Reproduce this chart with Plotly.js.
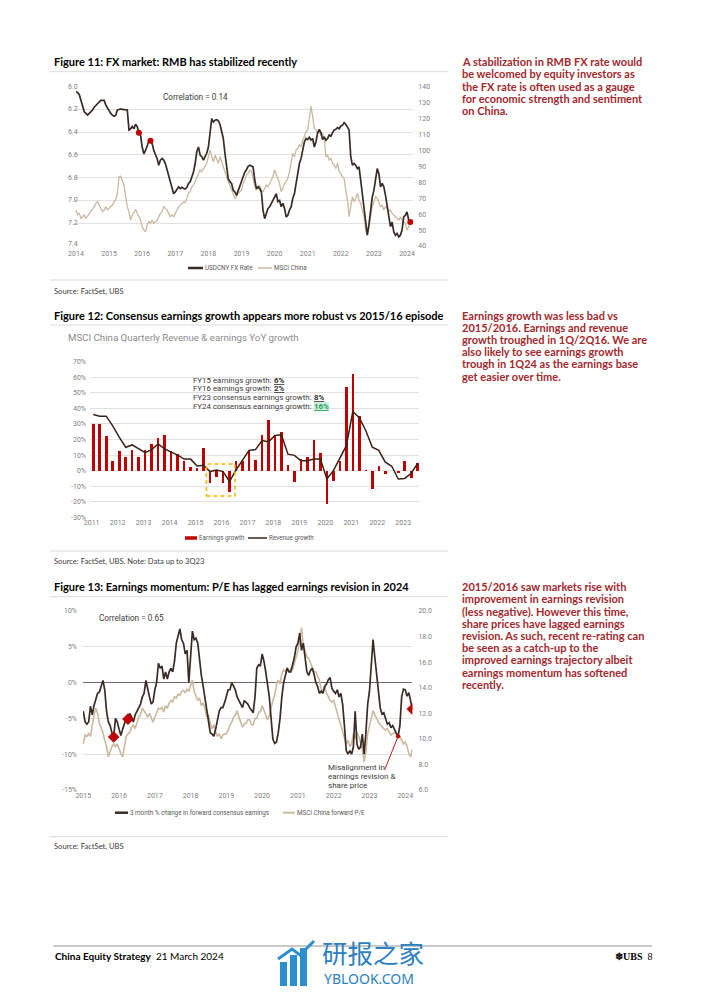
<!DOCTYPE html>
<html><head><meta charset="utf-8">
<script src="https://cdn.plot.ly/plotly-3.0.1.min.js"></script>
<style>html,body{margin:0;padding:0;background:#fff;}#c{width:702px;height:992px;}</style>
</head><body><div id="c"></div>
<script>
// ---------------- Figure 11 data (sampled every 0.05 year from 2014.0) ----------------
const fxStart = 2014, fxStep = 0.05;
const fxYears = [2014,2015,2016,2017,2018,2019,2020,2021,2022,2023,2024];
const usdcny = [
6.044,6.05,6.07,6.12,6.19,6.22,6.235,6.25,6.235,6.22,6.205,6.18,6.16,6.15,6.135,6.12,6.12,6.12,6.16,6.19,
6.205,6.235,6.25,6.26,6.25,6.205,6.2,6.195,6.2,6.2,6.2,6.205,6.38,6.37,6.35,6.37,6.33,6.35,6.405,6.425,
6.53,6.59,6.56,6.51,6.48,6.475,6.5,6.56,6.59,6.63,6.69,6.645,6.63,6.645,6.675,6.73,6.79,6.835,6.91,6.94,
6.925,6.895,6.88,6.895,6.885,6.895,6.9,6.885,6.85,6.835,6.79,6.75,6.675,6.57,6.53,6.6,6.615,6.645,6.615,6.585,
6.53,6.38,6.28,6.31,6.295,6.29,6.3,6.33,6.395,6.455,6.585,6.72,6.81,6.835,6.85,6.91,6.925,6.955,6.91,6.88,
6.835,6.79,6.75,6.73,6.7,6.69,6.7,6.705,6.82,6.895,6.88,6.895,6.925,7.085,7.16,7.115,7.07,7.055,7.03,7.0,
6.97,6.94,7.01,7.0,7.055,7.025,7.07,7.145,7.13,7.085,7.055,6.98,6.94,6.85,6.75,6.675,6.63,6.54,6.485,6.455,
6.465,6.445,6.47,6.455,6.53,6.485,6.405,6.375,6.405,6.465,6.44,6.47,6.455,6.425,6.435,6.405,6.38,6.375,6.36,6.37,
6.345,6.34,6.315,6.33,6.36,6.38,6.615,6.69,6.675,6.69,6.72,6.705,6.82,6.94,7.03,7.2,7.305,7.215,7.085,6.97,
6.91,6.81,6.72,6.765,6.88,6.85,6.88,6.955,7.055,7.16,7.23,7.19,7.275,7.305,7.29,7.32,7.305,7.26,7.145,7.13,
7.1,7.17,7.19];
const msciChina = [
62.6,59.5,60.5,57.4,58.4,59.5,57.4,58.8,60.5,61.5,62.6,64.7,66.8,67.8,65.7,63.6,61.5,62.6,64.7,62.6,
63.6,64.7,65.7,67.8,68.9,73.1,83.5,83.9,81.4,78.3,71.0,64.7,61.5,56.3,59.5,61.5,63.0,60.5,58.4,56.3,
52.1,50.0,49.0,53.2,55.3,54.2,56.3,54.2,55.3,56.3,58.4,60.5,61.5,64.7,63.6,62.6,60.5,58.4,59.5,58.4,
60.5,62.6,64.7,65.7,66.8,67.8,67.2,69.9,73.1,74.1,77.2,78.3,80.4,83.5,85.6,87.7,86.7,88.7,90.8,91.9,
96.0,100.3,96.0,92.9,97.1,94.0,91.9,96.0,92.9,88.7,85.6,82.5,80.4,78.3,75.1,73.1,69.9,71.0,73.1,74.1,
75.1,79.3,81.4,84.6,85.6,87.7,86.7,82.5,77.2,75.1,77.2,78.3,75.1,74.1,76.2,78.3,77.2,79.3,80.4,83.5,
87.7,84.6,82.5,79.3,74.1,77.2,79.3,80.4,82.5,86.7,94.0,98.2,96.0,100.3,101.3,103.4,102.3,106.5,108.6,111.8,
112.8,119.1,127.9,121.2,113.8,112.8,110.7,111.8,109.7,110.7,107.6,96.0,97.1,94.0,95.0,91.9,90.8,88.7,91.9,86.7,
85.6,83.5,82.5,75.1,68.9,58.4,64.7,71.0,67.8,69.9,73.1,68.9,66.8,62.6,58.4,50.0,46.9,52.1,59.5,64.7,
67.8,71.0,69.9,66.8,64.7,65.7,62.6,64.7,63.6,61.5,62.6,60.5,59.5,58.4,57.4,56.3,58.4,56.3,55.3,54.2,
50.0,52.1,56.3];
const fxMarkerDates = [2015.9, 2016.25, 2024.1];
const fxTicksLeft = [6.0,6.2,6.4,6.6,6.8,7.0,7.2,7.4];
const fxTicksRight = [40,50,60,70,80,90,100,110,120,130,140];

// ---------------- Figure 12 data (quarterly, 1Q11 - 3Q23) ----------------
const qYears = [2011,2012,2013,2014,2015,2016,2017,2018,2019,2020,2021,2022,2023];
const earningsGrowth = [
30,30,22.5,6.3, 12.8,8.5,13,9, 13,17,21,23, 12.6,11,6.5,2.6,
1.5,14.6,-7.8,-4, -8,-13.7,6.3,6, 13,7,22.6,32.4, 22.6,25,3.5,-7.4,
7.4,9,19.6,11.3, -21.7,-6.5,5.9,53.7, 62,35,0.3,-12, 2.8,-2,-0.3,-1.7,
5.9,-5,5.2];
const revenueGrowth = [
36,35,35,28.7, 21.5,15,16.5,14, 11.5,13.5,17.2,14, 12,10,7.4,7.4,
3,3.5,-0.6,0.4, -0.6,-7,0.4,6.3, 13,13.5,19.3,18.5, 22.6,23,10.6,9.8,
6.3,6.3,7.4,7.4, -5.4,0,8.5,16, 38,34,25.6,15, 13,5.4,2.8,-5.4,
-5,-1.7,4.8];
const growthTicks = [-30,-20,-10,0,10,20,30,40,50,60,70];
const fyNotes = [
  ['FY15 earnings growth: ', '6%'],
  ['FY16 earnings growth: ', '2%'],
  ['FY23 consensus earnings growth: ', '8%'],
  ['FY24 consensus earnings growth: ', '16%']
];

// ---------------- Figure 13 data (sampled every 0.05 year from 2015.0) ----------------
const emStart = 2015, emStep = 0.05;
const emYears = [2015,2016,2017,2018,2019,2020,2021,2022,2023,2024];
const revision3m = [
-4.0,-5.5,-5.8,-5.5,-3.3,-4.5,-3.2,-2.5,-1.5,-1.3,-0.5,0.3,-1.0,-4.0,-5.5,-6.0,-7.0,-7.6,-5.0,-5.5,
-6.5,-7.4,-6.5,-5.7,-5.0,-5.1,-4.3,-4.8,-5.5,-4.5,-4.0,-3.5,-3.0,-2.0,-1.5,0.3,-1.0,-2.0,-3.0,-2.7,
-1.0,0.0,2.7,2.0,2.3,0.5,1.5,0.5,1.5,2.0,1.5,3.0,5.5,6.5,7.5,6.0,5.5,4.0,4.5,0.0,
3.0,7.2,6.0,6.2,5.5,3.0,1.0,-0.5,-2.0,-3.5,-5.5,-7.0,-7.2,-7.5,-6.5,-5.0,-4.0,-3.5,-3.5,-2.8,
-2.0,-1.0,-1.0,0.0,-0.5,-1.0,-2.0,-2.5,-3.0,-3.5,-2.5,-2.8,-3.0,-3.5,-3.8,-4.2,-2.0,2.0,2.5,2.3,
4.0,3.0,1.5,0.0,-2.0,-5.0,-7.9,-8.5,-8.3,-7.0,-5.0,-2.0,0.0,1.0,2.0,1.5,1.5,2.5,3.5,5.0,
5.5,6.9,4.5,5.5,3.0,1.5,1.0,1.7,2.0,1.2,0.0,-0.5,-1.5,-1.2,-1.5,-0.5,-0.2,0.4,0.7,-0.8,
-1.2,-1.5,-1.0,-2.0,-1.5,-3.0,-6.0,-9.5,-10.0,-9.5,-10.0,-9.0,-4.0,-8.6,-9.3,-9.0,-7.2,-10.0,-7.0,-3.0,
-1.2,3.3,6.0,3.5,0.8,-1.8,-3.5,-4.4,-4.2,-5.0,-5.8,-5.6,-6.3,-6.0,-6.6,-7.1,-7.5,-6.0,-2.0,-0.9,
-1.0,-1.9,-1.4,-2.6,-3.7];
const forwardPE = [
9.6,10.3,10.2,10.4,10.2,11.1,11.9,12.4,12.0,11.2,10.8,10.5,9.9,9.4,8.6,9.0,9.4,9.6,9.4,9.6,
9.2,8.85,8.6,9.4,10.2,10.4,10.5,10.9,11.1,10.8,11.2,11.7,11.9,12.4,12.2,12.0,11.7,12.0,11.6,11.3,
11.7,12.0,12.4,12.3,12.5,12.1,12.6,12.4,12.8,13.0,12.9,13.3,13.2,13.5,13.4,13.7,13.8,13.6,13.9,13.7,
14.1,14.6,13.7,13.4,13.0,13.2,12.6,12.8,12.4,11.7,11.9,11.2,10.8,11.1,10.5,10.2,10.4,10.0,10.3,10.4,
10.4,10.7,11.1,11.3,11.7,11.85,12.2,11.7,11.2,10.9,11.2,11.2,11.5,11.5,11.1,11.1,11.6,11.6,12.1,12.1,
12.6,12.2,11.8,11.5,11.85,12.5,13.0,13.4,14.2,14.6,14.3,15.1,15.4,15.25,15.6,15.25,15.5,15.4,15.9,16.3,
16.9,17.7,18.7,17.3,16.9,16.4,16.3,16.0,15.6,15.25,15.25,14.9,14.6,13.9,13.7,14.1,13.55,13.3,13.0,12.9,
13.0,12.5,12.0,11.5,10.9,10.4,9.9,9.6,9.9,9.4,9.6,10.4,10.0,10.5,10.2,9.6,9.2,8.2,9.0,10.4,
10.9,11.6,12.2,11.85,11.5,11.3,11.1,10.9,10.8,10.7,10.8,10.5,10.3,10.4,10.5,10.4,10.3,10.2,9.9,9.6,
9.75,9.4,8.85,8.6,9.2];
const emMarkerDates = [2015.85, 2016.25, 2024.2];
const misalignDate = 2023.8;
const revTicks = [-15,-10,-5,0,5,10];
const peTicks = [6,8,10,12,14,16,18,20];

// ---------------- page texts ----------------
const para1 = ['A stabilization in RMB FX rate would','be welcomed by equity investors as','the FX rate is often used as a gauge','for economic strength and sentiment','on China.'];
const para2 = ['Earnings growth was less bad vs','2015/2016. Earnings and revenue','growth troughed in 1Q/2Q16. We are','also likely to see earnings growth','trough in 1Q24 as the earnings base','get easier over time.'];
const para3 = ['2015/2016 saw markets rise with','improvement in earnings revision','(less negative). However this time,','share prices have lagged earnings','revision. As such, recent re-rating can','be seen as a catch-up to the','improved earnings trajectory albeit','earnings momentum has softened','recently.'];

// ---------------- helpers ----------------
const W = 702, H = 992;
const X = p => p / W, Y = p => 1 - p / H;
const r2 = v => Math.round(v * 100) / 100;
const fxT = usdcny.map((_, i) => r2(fxStart + i * fxStep));
const emT = revision3m.map((_, i) => r2(emStart + i * emStep));
const qX = [];
qYears.forEach(y => { for (let q = 0; q < 4; q++) if (qX.length < earningsGrowth.length) qX.push(y + q * 0.25 + 0.06); });
const fxIdx = d => Math.round((d - fxStart) / fxStep);
const emIdx = d => Math.round((d - emStart) / emStep);
const pct = v => (v < 0 ? '-' + Math.abs(v) : '' + v) + '%';
const measure = (t, font) => { const c = document.createElement('canvas').getContext('2d'); c.font = font; return c.measureText(t).width; };

const DARK = '#3a2c25', TAN = '#ccb99d', RED = '#c00000', GRID = '#d9d9d9';
const CF = 'Roboto, sans-serif';
const tickFont = {family: CF, size: 7, color: '#808080'};
const textFont = 'Lato, sans-serif';

const traces = [
  {x: fxT, y: msciChina, xaxis: 'x', yaxis: 'y', type: 'scatter', mode: 'lines', line: {color: TAN, width: 1.3}, hoverinfo: 'skip'},
  {x: fxT, y: usdcny, xaxis: 'x', yaxis: 'y2', type: 'scatter', mode: 'lines', line: {color: DARK, width: 1.7}, hoverinfo: 'skip'},
  {x: fxMarkerDates.map(d => fxT[fxIdx(d)]), y: fxMarkerDates.map(d => usdcny[fxIdx(d)]), xaxis: 'x', yaxis: 'y2', type: 'scatter', mode: 'markers', marker: {color: RED, size: 6}, hoverinfo: 'skip'},
  {x: qX, y: earningsGrowth, xaxis: 'x2', yaxis: 'y3', type: 'bar', width: 0.1, marker: {color: RED, line: {width: 0}}, hoverinfo: 'skip'},
  {x: qX, y: revenueGrowth, xaxis: 'x2', yaxis: 'y3', type: 'scatter', mode: 'lines', line: {color: '#3a2316', width: 1.5}, hoverinfo: 'skip'},
  {x: emT, y: forwardPE, xaxis: 'x3', yaxis: 'y4', type: 'scatter', mode: 'lines', line: {color: TAN, width: 1.6}, hoverinfo: 'skip'},
  {x: emT, y: revision3m, xaxis: 'x3', yaxis: 'y5', type: 'scatter', mode: 'lines', line: {color: DARK, width: 1.7}, hoverinfo: 'skip'},
  {x: emMarkerDates.map(d => emT[emIdx(d)]), y: emMarkerDates.map(d => revision3m[emIdx(d)]), xaxis: 'x3', yaxis: 'y5', type: 'scatter', mode: 'markers', marker: {color: RED, size: 9, symbol: 'diamond'}, hoverinfo: 'skip'}
];

const baseX = {showgrid: false, zeroline: false, showline: false, ticks: '', tickfont: tickFont, fixedrange: true};
const baseY = {zeroline: false, showline: false, ticks: '', tickfont: tickFont, fixedrange: true, gridcolor: GRID, gridwidth: 0.8};

const layout = {
  width: W, height: H, margin: {l: 0, r: 0, t: 0, b: 0},
  paper_bgcolor: '#fff', plot_bgcolor: 'rgba(0,0,0,0)', showlegend: false, bargap: 0,
  xaxis: Object.assign({}, baseX, {domain: [X(74.3), X(413.3)], range: [2013.949, 2024.19], anchor: 'y', tickvals: fxYears, ticktext: fxYears.map(String), ticklabelstandoff: 2}),
  yaxis: Object.assign({}, baseY, {domain: [Y(246), Y(86.7)], range: [40, 140], side: 'right', anchor: 'x', showgrid: false, tickvals: fxTicksRight, ticktext: fxTicksRight.map(String), ticklabelstandoff: 4}),
  yaxis2: Object.assign({}, baseY, {overlaying: 'y', side: 'left', anchor: 'x', range: [7.4, 6.0], showgrid: true, tickvals: fxTicksLeft, showticklabels: false}),
  xaxis2: Object.assign({}, baseX, {domain: [X(90), X(419.3)], range: [2010.935, 2023.62], anchor: 'y3', tickvals: qYears, ticktext: qYears.map(String)}),
  yaxis3: Object.assign({}, baseY, {domain: [Y(517.3), Y(361.7)], range: [-30, 70], anchor: 'x2', showgrid: true, tickvals: growthTicks, ticktext: growthTicks.map(pct), ticklabelstandoff: 3}),
  xaxis3: Object.assign({}, baseX, {domain: [X(83), X(412.4)], range: [2014.992, 2024.2], anchor: 'y4', tickvals: emYears, ticktext: emYears.map(String)}),
  yaxis4: Object.assign({}, baseY, {domain: [Y(790), Y(611)], range: [6, 20], side: 'right', anchor: 'x3', showgrid: false, tickvals: peTicks, ticktext: peTicks.map(v => v.toFixed(1)), ticklabelstandoff: 5}),
  yaxis5: Object.assign({}, baseY, {overlaying: 'y4', side: 'left', anchor: 'x3', range: [-15, 10], showgrid: true, zeroline: true, zerolinecolor: '#6b6b6b', zerolinewidth: 1, tickvals: revTicks, ticktext: revTicks.map(pct), ticklabelstandoff: 5}),
  annotations: [], shapes: []
};

const A = layout.annotations, S = layout.shapes;
function txt(x, y, text, size, color, opts) {
  A.push(Object.assign({xref: 'paper', yref: 'paper', x: X(x), y: Y(y), text: text, showarrow: false, xanchor: 'left', yanchor: 'middle', borderpad: 0, borderwidth: 0,
    font: {family: (opts && opts.family) || textFont, size: size, color: color}}, opts || {}));
}
function hline(x0, x1, y, color, width) {
  S.push({type: 'line', xref: 'paper', yref: 'paper', x0: X(x0), x1: X(x1), y0: Y(y), y1: Y(y), line: {color: color, width: width}});
}
function seg(x0, x1, y, color, width) { hline(x0, x1, y, color, width); }

// Figure 11 left tick labels (they sit partly over the plot edge in the original)
fxTicksLeft.forEach(v => A.push({xref: 'paper', yref: 'y2', x: X(79), y: v, text: v.toFixed(1), showarrow: false, xanchor: 'right', yanchor: v === 7.4 ? 'bottom' : 'middle', yshift: v === 7.4 ? -3 : 0, borderpad: 0, font: tickFont}));

// figure titles and rules
txt(54, 61.5, '<b>Figure 11: FX market: RMB has stabilized recently</b>', 11, '#000');
txt(54, 315, '<b>Figure 12: Consensus earnings growth appears more robust vs 2015/16 episode</b>', 11, '#000');
txt(54, 586.5, '<b>Figure 13: Earnings momentum: P/E has lagged earnings revision in 2024</b>', 11, '#000');
[71.7, 325, 596.7].forEach(y => hline(50, 448, y, '#d0d0d0', 0.8));
[280, 551, 836.7].forEach(y => hline(50, 448, y, '#d0d0d0', 0.8));
txt(54, 291, 'Source: FactSet, UBS', 7.6, '#404040');
txt(54, 561, 'Source: FactSet, UBS. Note: Data up to 3Q23', 7.6, '#404040');
txt(54, 846, 'Source: FactSet, UBS', 7.6, '#404040');

// right-hand commentary
const PC = '#a3292e';
para1.forEach((t, i) => txt(461.7, 61.7 + i * 12.3, '<b>' + t + '</b>', 11, PC));
para2.forEach((t, i) => txt(461.7, 315 + i * 12.2, '<b>' + t + '</b>', 11, PC));
para3.forEach((t, i) => txt(461.7, 586.7 + i * 12.2, '<b>' + t + '</b>', 11, PC));

// figure 11 extras
txt(163, 97.3, 'Correlation = 0.14', 8.2, '#404040', {family: CF});
seg(188, 203, 268, DARK, 2.5);
txt(204.5, 268, 'USDCNY FX Rate', 6.3, '#595959', {family: CF});
seg(258, 272, 268, TAN, 1.5);
txt(273.5, 268, 'MSCI China', 6.3, '#595959', {family: CF});

// figure 12 extras
txt(68, 337, 'MSCI China Quarterly Revenue &amp; earnings YoY growth', 9.7, '#8c8c8c', {family: CF});
const noteSize = 7.9;
fyNotes.forEach((n, i) => {
  const y = 380 + i * 8.9;
  txt(193.3, y, n[0], noteSize, '#404040', {family: CF});
  const w = measure(n[0], noteSize + 'px Roboto');
  const green = i === 3;
  txt(193.3 + w, y, '<b><u>' + n[1] + '</u></b>', noteSize, green ? '#1f9e5a' : '#303030',
      Object.assign({family: CF}, green ? {bgcolor: '#cdeed8'} : {}));
});
S.push({type: 'rect', xref: 'x2', yref: 'y3', x0: 2015.42, x1: 2016.52, y0: -16.3, y1: 4.2, line: {color: '#f2b600', width: 1.5, dash: '4px,3px'}, fillcolor: 'rgba(0,0,0,0)'});
seg(185, 197, 538, RED, 3.5);
txt(198.5, 538, 'Earnings growth', 6.3, '#595959', {family: CF});
seg(248, 267, 538, '#3a2316', 1.5);
txt(268.5, 538, 'Revenue growth', 6.3, '#595959', {family: CF});

// figure 13 extras
txt(99, 618.3, 'Correlation = 0.65', 8.2, '#404040', {family: CF});
['Misalignment in', 'earnings revision &amp;', 'share price'].forEach((t, i) =>
  txt(327.5, 767.5 + i * 9, t, 8, '#404040', {family: CF}));
A.push({xref: 'x3', yref: 'y5', x: emT[emIdx(misalignDate)], y: revision3m[emIdx(misalignDate)], ax: -14, ay: 35, text: '', showarrow: true,
  arrowcolor: RED, arrowwidth: 0.9, arrowhead: 6, arrowsize: 1.2});
seg(115, 128, 812.7, DARK, 2.5);
txt(129.5, 812.7, '3 month % change in forward consensus earnings', 6.3, '#595959', {family: CF});
seg(283, 295, 812.7, TAN, 2);
txt(296.5, 812.7, 'MSCI China forward P/E', 6.3, '#595959', {family: CF});

// footer
hline(53, 652, 946, '#7a7a7a', 0.8);
txt(54.5, 956, '<b>China Equity Strategy</b>  21 March 2024', 10, '#000');
txt(652, 956, '<b>❄UBS</b>  8', 10, '#000', {xanchor: 'right', family: 'Liberation Serif, serif'});
// watermark
txt(322, 951, '研报之家', 25.5, '#2c7fc0', {family: 'Noto Sans CJK SC, sans-serif'});
txt(324, 978.5, 'YBLOOK.COM', 14, '#2c7fc0', {family: 'Noto Sans, sans-serif'});
[[280, 287, 962], [290, 297, 955], [300, 307, 948]].forEach(b =>
  S.push({type: 'rect', xref: 'paper', yref: 'paper', x0: X(b[0]), x1: X(b[1]), y0: Y(986), y1: Y(b[2]), line: {width: 0}, fillcolor: '#2c8fd0'}));
S.push({type: 'path', xref: 'paper', yref: 'paper', path: 'M ' + X(278) + ' ' + Y(959) + ' L ' + X(292) + ' ' + Y(949) + ' L ' + X(300) + ' ' + Y(955) + ' L ' + X(314) + ' ' + Y(941), line: {color: '#2c8fd0', width: 3}});

Plotly.newPlot('c', traces, layout, {staticPlot: true, displayModeBar: false});
</script>
</body></html>
